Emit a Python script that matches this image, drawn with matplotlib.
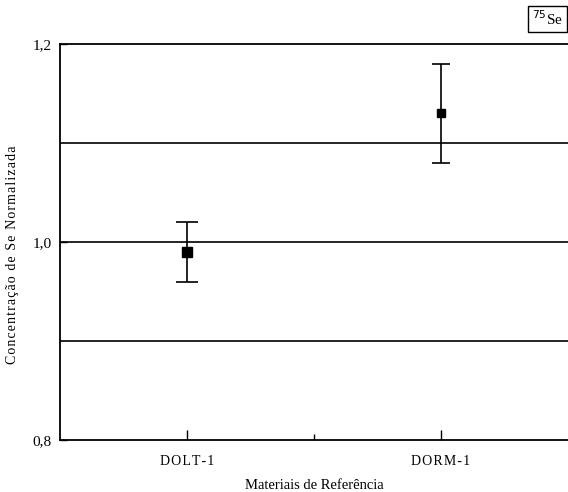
import numpy as np
import matplotlib.pyplot as plt

plt.rcParams['font.family'] = ['Liberation Serif', 'DejaVu Serif']

materials = ["DOLT-1", "DORM-1"]
se_norm = np.array([0.99, 1.13])
se_err = np.array([0.03, 0.05])
ref_lines = [0.9, 1.0, 1.1]


def spaced(s):
    # slight letter spacing like the original
    return "\u200a".join(s)


fig = plt.figure(figsize=(5.68, 4.92), dpi=100)
ax = fig.add_axes([60 / 568, 52 / 492, 1 - 60 / 568, 396 / 492])

for y in ref_lines:
    ax.axhline(y, color="black", lw=1.2, zorder=1)

x = np.arange(1, len(materials) + 1)
sizes = [7, 5.5]
caps = [8, 6.5]
for xi, yi, ei, ms, cs in zip(x, se_norm, se_err, sizes, caps):
    ax.errorbar(xi, yi, yerr=ei, fmt="s", color="black", ms=ms,
                capsize=cs, elinewidth=1.2, capthick=1.2, zorder=3)

ax.set_xlim(0.5, 2.5)
ax.set_ylim(0.8, 1.2)
ax.set_xticks(x)
ax.set_xticklabels([spaced(m) for m in materials])
ax.set_xticks([1.5], minor=True)
ax.set_yticks([0.8, 1.0, 1.2])
ax.set_yticklabels(["0,8", "1,0", "1,2"])
ax.tick_params(axis="x", which="major", direction="in", length=7, width=1, labelsize=10, pad=11)
ax.tick_params(axis="x", which="minor", direction="in", length=4, width=1)
ax.tick_params(axis="y", direction="in", length=5, width=1, labelsize=11, pad=6)

ax.spines["right"].set_visible(False)
for s in ["left", "top", "bottom"]:
    ax.spines[s].set_linewidth(1.3)

ax.set_xlabel("Materiais de Referência", fontsize=10.5, labelpad=8)
ax.set_ylabel(spaced("Concentração de Se Normalizada"), fontsize=10)
ax.yaxis.set_label_coords(-0.08, 0.467)

fig.text(0.937, 0.962, r"$^{75}$Se", fontsize=11, ha="left", va="center",
         bbox=dict(boxstyle="square,pad=0.25", fc="white", ec="black", lw=1))

fig.savefig("out.png", dpi=100)
